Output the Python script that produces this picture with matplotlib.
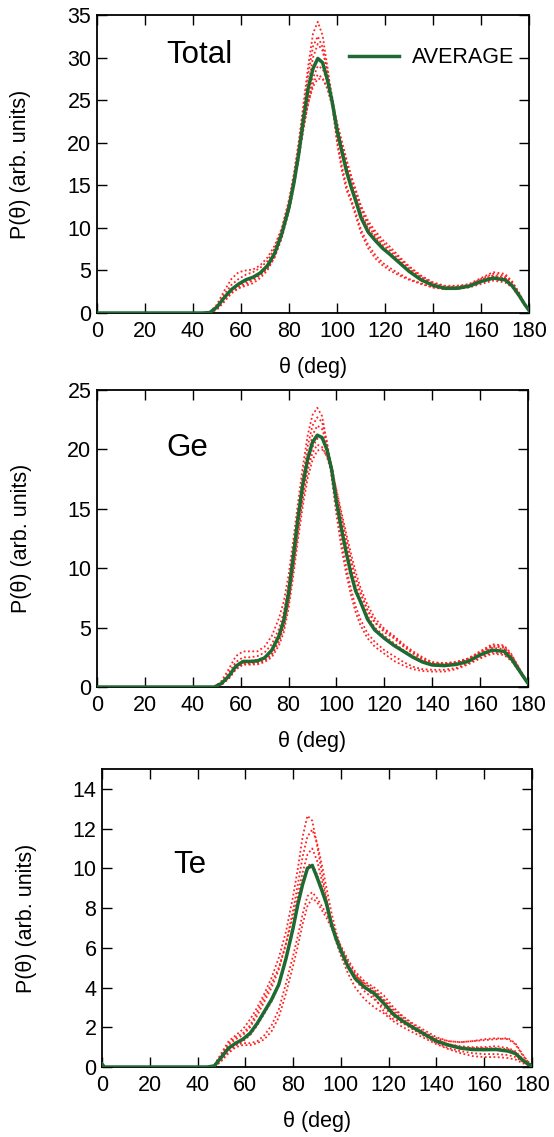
import matplotlib
matplotlib.use("Agg")
import matplotlib.pyplot as plt

plt.rcParams['font.family'] = ['Liberation Sans', 'DejaVu Sans']

# ---------------- Total ----------------
x_total = [0, 44, 47, 50, 53, 56, 59, 62, 65, 68, 71, 74, 77, 80, 82, 84, 86, 88, 90, 92, 94, 96, 98, 100,
           102, 104, 106, 108, 110, 113, 116, 119, 122, 126, 130, 135, 140, 145, 150, 155, 160, 165, 170,
           173, 176, 178, 180]
avg_total = [0, 0, 0.05, 0.7, 1.8, 2.75, 3.4, 3.9, 4.2, 4.7, 5.55, 7.0, 9.3, 12.4, 15.2, 18.6, 22.7, 26.4, 28.7,
             29.9, 29.4, 27.4, 24.8, 21.5, 19.0, 16.6, 14.7, 13.0, 11.2, 9.5, 8.5, 7.6, 6.9, 5.9, 4.9, 3.9,
             3.25, 2.9, 2.9, 3.15, 3.7, 4.1, 3.9, 3.2, 2.0, 1.1, 0.3]
runs_total = [
    [0, 0, 0.1, 1.0, 2.6, 4.0, 4.8, 5.0, 5.1, 5.6, 6.5, 7.9, 10.0, 13.3, 16.3, 20.0, 24.5, 29.0, 32.8, 34.2,
     32.6, 28.9, 24.6, 20.0, 16.8, 14.4, 13.0, 11.2, 9.4, 7.6, 6.4, 5.6, 5.0, 4.4, 3.9, 3.4, 3.0, 2.8, 2.8,
     3.0, 3.4, 3.8, 3.6, 3.0, 1.9, 1.0, 0.3],
    [0, 0, 0.05, 0.8, 2.2, 3.3, 4.0, 4.5, 4.8, 5.3, 6.1, 7.6, 9.8, 13.0, 16.0, 19.6, 23.8, 28.0, 31.3, 32.5,
     31.2, 28.2, 24.4, 20.4, 17.3, 14.9, 13.3, 11.6, 9.8, 8.0, 6.8, 5.9, 5.3, 4.6, 4.0, 3.5, 3.0, 2.8, 2.9,
     3.1, 3.6, 4.0, 3.8, 3.1, 2.0, 1.0, 0.3],
    [0, 0, 0.0, 0.6, 1.7, 2.6, 3.2, 3.6, 4.0, 4.6, 5.4, 6.8, 9.0, 12.2, 15.0, 18.4, 22.6, 26.8, 30.0, 31.6,
     30.8, 28.5, 25.4, 22.0, 19.4, 17.0, 15.0, 13.4, 11.6, 9.9, 8.8, 7.8, 7.0, 6.0, 5.0, 4.0, 3.3, 3.0, 3.0,
     3.2, 3.8, 4.3, 4.1, 3.3, 2.1, 1.1, 0.3],
    [0, 0, 0.05, 0.7, 1.8, 2.7, 3.3, 3.8, 4.1, 4.5, 5.2, 6.5, 8.8, 12.0, 14.8, 18.0, 21.6, 25.0, 27.6, 29.0,
     28.7, 27.2, 24.9, 22.2, 19.8, 17.6, 15.6, 13.8, 12.0, 10.2, 9.0, 8.0, 7.3, 6.2, 5.2, 4.2, 3.4, 3.0, 3.0,
     3.2, 3.9, 4.4, 4.2, 3.4, 2.1, 1.1, 0.3],
    [0, 0, 0.0, 0.5, 1.5, 2.4, 3.0, 3.4, 3.8, 4.4, 5.3, 6.9, 9.4, 12.8, 15.4, 18.4, 21.6, 24.7, 27.0, 28.0,
     27.6, 26.3, 24.3, 21.9, 19.8, 17.8, 15.9, 14.2, 12.4, 10.5, 9.3, 8.3, 7.5, 6.4, 5.4, 4.3, 3.5, 3.1, 3.1,
     3.3, 4.0, 4.6, 4.4, 3.6, 2.3, 1.2, 0.3],
    [0, 0, 0.0, 0.4, 1.3, 2.3, 2.9, 3.2, 3.5, 4.1, 5.0, 6.6, 9.2, 12.9, 15.6, 18.6, 21.8, 24.6, 26.6, 27.5,
     27.5, 26.5, 24.7, 22.4, 20.2, 18.0, 16.0, 14.3, 12.6, 10.8, 9.6, 8.6, 7.8, 6.6, 5.5, 4.4, 3.6, 3.2, 3.2,
     3.4, 4.1, 4.8, 4.6, 3.7, 2.3, 1.2, 0.3],
]

# ---------------- Ge ----------------
x_ge = [0, 46, 49, 52, 55, 58, 61, 64, 67, 70, 73, 76, 78, 80, 82, 84, 86, 88, 90, 92, 94, 96, 98, 100, 102,
        104, 106, 108, 110, 113, 116, 120, 124, 128, 132, 136, 140, 145, 150, 155, 160, 165, 170, 173, 176,
        178, 180]
avg_ge = [0, 0, 0, 0.3, 0.9, 1.75, 2.15, 2.15, 2.2, 2.45, 3.1, 4.3, 5.6, 7.9, 11.0, 14.3, 17.1, 19.2, 20.6,
          21.2, 21.0, 20.0, 18.3, 15.6, 13.4, 11.4, 9.6, 8.1, 7.2, 5.7, 4.8, 4.1, 3.5, 3.0, 2.5, 2.1, 1.85,
          1.8, 1.9, 2.15, 2.7, 3.1, 3.0, 2.4, 1.5, 0.9, 0.3]
runs_ge = [
    [0, 0, 0, 0.5, 1.5, 2.6, 3.0, 3.0, 3.0, 3.4, 4.3, 5.8, 7.2, 9.4, 12.4, 15.6, 18.6, 21.2, 22.9, 23.5, 22.8,
     20.6, 17.6, 14.5, 11.8, 9.6, 7.8, 6.3, 5.2, 4.1, 3.4, 2.8, 2.2, 1.8, 1.5, 1.35, 1.3, 1.3, 1.5, 1.9, 2.4,
     2.8, 2.7, 2.2, 1.4, 0.8, 0.3],
    [0, 0, 0, 0.4, 1.2, 2.1, 2.5, 2.5, 2.6, 2.9, 3.6, 4.9, 6.3, 8.6, 11.6, 14.8, 17.8, 20.3, 22.0, 22.7, 22.3,
     20.6, 18.0, 15.0, 12.4, 10.2, 8.3, 6.8, 5.7, 4.5, 3.8, 3.1, 2.6, 2.1, 1.7, 1.5, 1.45, 1.45, 1.6, 2.0,
     2.5, 2.9, 2.8, 2.3, 1.4, 0.8, 0.3],
    [0, 0, 0, 0.3, 0.9, 1.8, 2.2, 2.2, 2.3, 2.5, 3.1, 4.3, 5.5, 7.6, 10.6, 13.9, 16.9, 19.4, 21.2, 22.0, 21.7,
     20.5, 18.6, 16.1, 13.9, 11.9, 10.1, 8.5, 7.4, 6.0, 5.0, 4.3, 3.7, 3.1, 2.6, 2.2, 1.95, 1.9, 2.0, 2.3,
     2.8, 3.3, 3.2, 2.5, 1.6, 0.9, 0.3],
    [0, 0, 0, 0.2, 0.8, 1.6, 2.0, 2.0, 2.1, 2.3, 2.8, 3.9, 5.1, 7.2, 10.1, 13.3, 16.2, 18.6, 20.2, 20.9, 20.9,
     20.1, 18.6, 16.5, 14.5, 12.6, 10.8, 9.2, 8.0, 6.5, 5.5, 4.6, 4.1, 3.4, 2.8, 2.3, 2.0, 1.95, 2.05, 2.35,
     2.9, 3.4, 3.3, 2.6, 1.6, 0.9, 0.3],
    [0, 0, 0, 0.2, 0.7, 1.5, 1.9, 1.9, 2.0, 2.2, 2.7, 3.8, 5.0, 7.1, 10.0, 13.1, 15.9, 18.2, 19.7, 20.4, 20.2,
     19.4, 18.0, 16.1, 14.2, 12.4, 10.7, 9.1, 7.9, 6.4, 5.4, 4.8, 4.2, 3.5, 2.9, 2.4, 2.05, 2.0, 2.1, 2.4,
     2.95, 3.5, 3.4, 2.7, 1.7, 0.9, 0.3],
    [0, 0, 0, 0.2, 0.7, 1.5, 1.9, 1.9, 1.9, 2.1, 2.5, 3.5, 4.6, 6.6, 9.4, 12.5, 15.3, 17.6, 19.1, 19.9, 20.0,
     19.5, 18.3, 16.6, 14.8, 13.0, 11.3, 9.7, 8.4, 6.9, 5.8, 4.9, 4.3, 3.6, 3.0, 2.5, 2.1, 2.0, 2.1, 2.4,
     3.0, 3.6, 3.5, 2.8, 1.7, 1.0, 0.3],
]

# ---------------- Te ----------------
x_te = [0, 1, 44, 47, 50, 53, 56, 59, 62, 65, 68, 71, 74, 77, 80, 82, 84, 86, 88, 90, 92, 94, 96, 98, 100,
        103, 106, 110, 114, 118, 122, 126, 130, 135, 140, 145, 150, 155, 160, 165, 170, 173, 176, 178, 180]
avg_te = [0.15, 0, 0, 0.05, 0.5, 0.95, 1.2, 1.4, 1.7, 2.2, 2.8, 3.4, 4.15, 5.45, 7.0, 8.2, 9.2, 10.0, 10.15,
          9.55, 8.9, 8.2, 7.2, 6.45, 5.85, 5.05, 4.45, 4.0, 3.7, 3.2, 2.65, 2.3, 2.0, 1.65, 1.3, 1.1, 0.95,
          0.88, 0.87, 0.88, 0.8, 0.68, 0.35, 0.18, 0.05]
runs_te = [
    [0, 0, 0, 0.1, 0.7, 1.3, 1.6, 1.9, 2.4, 3.0, 3.7, 4.5, 5.5, 6.8, 8.6, 10.0, 11.6, 12.65, 12.4, 11.2, 9.8,
     8.5, 7.3, 6.3, 5.6, 4.7, 4.0, 3.4, 3.0, 2.7, 2.3, 2.0, 1.75, 1.45, 1.15, 0.9, 0.7, 0.55, 0.5, 0.5, 0.45,
     0.38, 0.2, 0.1, 0.03],
    [0, 0, 0, 0.05, 0.6, 1.1, 1.4, 1.6, 2.0, 2.6, 3.3, 4.0, 4.9, 6.2, 7.9, 9.2, 10.6, 11.6, 11.95, 11.3, 10.2,
     9.0, 7.8, 6.8, 6.0, 5.1, 4.4, 3.8, 3.4, 3.0, 2.55, 2.2, 1.9, 1.55, 1.2, 0.95, 0.8, 0.7, 0.65, 0.65, 0.6,
     0.5, 0.28, 0.14, 0.04],
    [0, 0, 0, 0.1, 0.6, 1.2, 1.5, 1.7, 2.1, 2.8, 3.5, 4.2, 5.0, 6.2, 7.6, 8.7, 9.8, 10.7, 11.0, 10.4, 9.4,
     8.4, 7.4, 6.6, 5.9, 5.1, 4.6, 4.2, 3.9, 3.4, 2.9, 2.5, 2.15, 1.75, 1.4, 1.15, 1.0, 0.95, 0.95, 0.95,
     0.9, 0.75, 0.4, 0.2, 0.05],
    [0, 0, 0, 0.05, 0.4, 0.9, 1.1, 1.3, 1.6, 2.1, 2.7, 3.3, 4.1, 5.4, 7.0, 8.2, 9.3, 10.15, 10.2, 9.7, 9.0,
     8.2, 7.3, 6.5, 5.8, 5.1, 4.6, 4.2, 3.8, 3.35, 2.8, 2.4, 2.05, 1.7, 1.35, 1.15, 1.05, 1.0, 1.0, 1.05,
     0.95, 0.8, 0.42, 0.2, 0.05],
    [0, 0, 0, 0.0, 0.35, 0.8, 1.1, 1.2, 1.2, 1.3, 1.6, 2.1, 2.9, 4.2, 5.6, 6.6, 7.7, 8.6, 8.8, 8.5, 8.1,
     7.7, 7.2, 6.6, 6.1, 5.4, 4.8, 4.3, 4.0, 3.6, 3.0, 2.55, 2.2, 1.85, 1.5, 1.3, 1.25, 1.3, 1.4, 1.45,
     1.4, 1.15, 0.6, 0.3, 0.06],
    [0, 0, 0, 0.0, 0.3, 0.7, 1.0, 1.1, 1.1, 1.2, 1.4, 1.8, 2.5, 3.7, 5.1, 6.1, 7.2, 8.1, 8.5, 8.3, 7.9,
     7.5, 7.0, 6.5, 6.0, 5.3, 4.7, 4.1, 3.5, 2.8, 2.4, 2.2, 2.0, 1.7, 1.45, 1.3, 1.25, 1.3, 1.35, 1.4,
     1.45, 1.2, 0.65, 0.32, 0.06],
]

panel_names = ["Total", "Ge", "Te"]
y_limits = [35, 25, 15]
y_ticks = [list(range(0, 36, 5)), list(range(0, 26, 5)), list(range(0, 15, 2))]
x_ticks = list(range(0, 181, 20))

W, H = 554, 1137
fig = plt.figure(figsize=(W / 100, H / 100), dpi=100)

# axes boxes in pixels: left, top, right, bottom
boxes = [(97, 15, 529, 313), (97, 390, 528, 687), (102, 769, 532, 1067)]
name_pos = [(0.16, 0.866), (0.16, 0.804), (0.165, 0.678)]

data = [(x_total, avg_total, runs_total), (x_ge, avg_ge, runs_ge), (x_te, avg_te, runs_te)]

GREEN = '#1d6b33'
RED = '#ff2222'
FS = 15.5

for i, (xs, avg, runs) in enumerate(data):
    l, t, r, b = boxes[i]
    ax = fig.add_axes([l / W, 1 - b / H, (r - l) / W, (b - t) / H])
    for k, run in enumerate(runs):
        ax.plot(xs, run, color=RED, lw=1.3, linestyle=(0, (1, 1.4)), zorder=2)
    ax.plot(xs, avg, color=GREEN, lw=2.5, zorder=3, label='AVERAGE')
    ax.set_xlim(0, 180)
    ax.set_ylim(0, y_limits[i])
    ax.set_xticks(x_ticks)
    ax.set_yticks(y_ticks[i])
    ax.tick_params(direction='in', length=7, width=1, top=True, right=True,
                   labelsize=FS, colors='black')
    ax.tick_params(axis='x', pad=6)
    ax.tick_params(axis='y', pad=4)
    for s in ax.spines.values():
        s.set_linewidth(1.3)
    ax.set_xlabel('θ (deg)', fontsize=FS)
    ax.set_ylabel('P(θ) (arb. units)', fontsize=FS)
    ax.xaxis.label.set_va('center')
    ax.yaxis.label.set_va('center')
    ax.xaxis.set_label_coords(0.5, -0.182)
    ax.yaxis.set_label_coords(-0.176, 0.5)
    ax.text(name_pos[i][0], name_pos[i][1], panel_names[i], transform=ax.transAxes,
            fontsize=22.5, ha='left', va='center')
    if i == 0:
        ax.legend(loc='center right', bbox_to_anchor=(0.965, 0.857), frameon=False,
                  fontsize=FS, handlelength=2.3, handletextpad=0.6, borderpad=0,
                  borderaxespad=0)

fig.savefig('out.png', dpi=100)
